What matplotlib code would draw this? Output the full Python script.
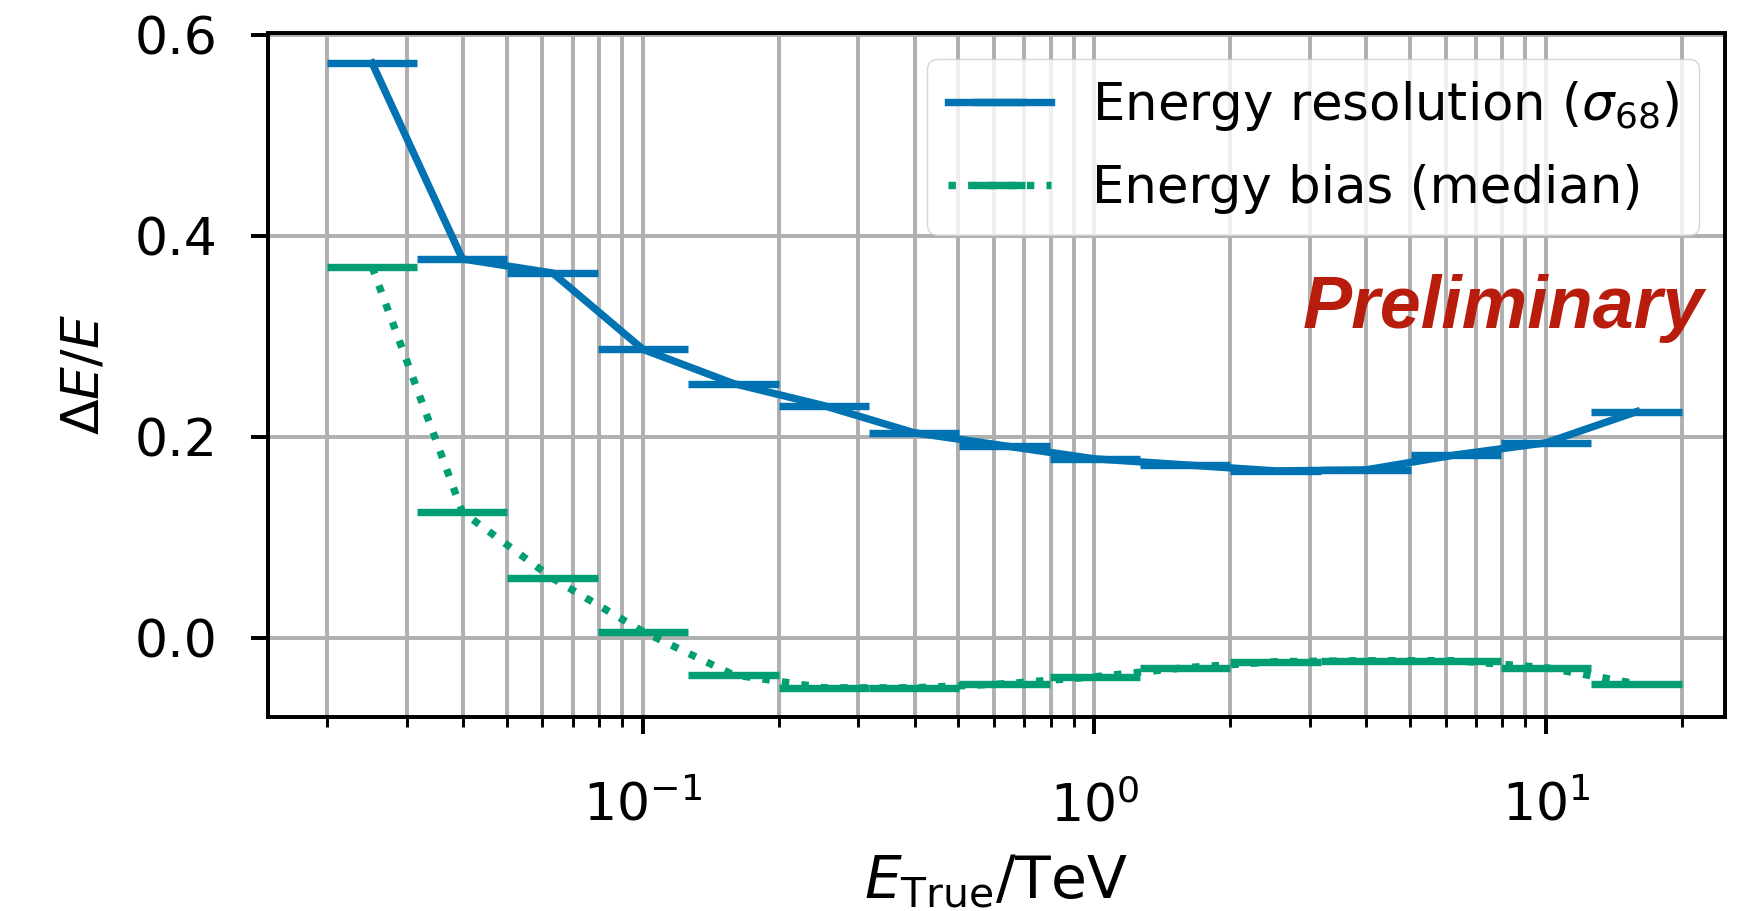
import numpy as np
import matplotlib
matplotlib.use('Agg')
import matplotlib.pyplot as plt

# bin edges in TeV (5 bins per decade, 0.02 - 20 TeV)
bin_edges = [0.02, 0.0317, 0.0502, 0.0796, 0.126, 0.2, 0.317, 0.502,
             0.796, 1.26, 2.0, 3.17, 5.02, 7.96, 12.6, 20.0]

resolution = [0.572, 0.377, 0.363, 0.287, 0.253, 0.231, 0.204, 0.191,
              0.178, 0.172, 0.166, 0.167, 0.182, 0.194, 0.225]
bias = [0.369, 0.125, 0.059, 0.006, -0.037, -0.050, -0.050, -0.046,
        -0.039, -0.030, -0.024, -0.023, -0.023, -0.030, -0.046]

label_res = r'Energy resolution ($\sigma_{68}$)'
label_bias = 'Energy bias (median)'

s = 3.55  # scale of everything vs. matplotlib defaults
plt.rcParams.update({
    'font.size': 37.5,
    'axes.linewidth': 0.8 * s,
    'grid.linewidth': 0.8 * s,
    'xtick.major.size': 3.5 * s,
    'xtick.minor.size': 2 * s,
    'ytick.major.size': 3.5 * s,
    'xtick.major.width': 0.8 * s,
    'xtick.minor.width': 0.6 * s,
    'ytick.major.width': 0.8 * s,
    'xtick.major.pad': 34,
    'ytick.major.pad': 24,
    'lines.linewidth': 1.5 * s,
})

lo = np.array(bin_edges[:-1])
hi = np.array(bin_edges[1:])
center = np.sqrt(lo * hi)
xerr = [center - lo, hi - center]

fig = plt.figure(figsize=(17.42, 9.11), dpi=100)
ax = fig.add_axes([0.1538, 0.2130, 0.8364, 0.7508])

ax.errorbar(center, resolution, xerr=xerr, ls='-', color='#0173B2',
            label=label_res)
ax.errorbar(center, bias, xerr=xerr, ls=':', color='#029E73',
            label=label_bias)

ax.set_xscale('log')
ax.set_xlim(0.0148, 24.9)
ax.set_ylim(-0.079, 0.602)
ax.set_yticks([0.0, 0.2, 0.4, 0.6])
ax.grid(True, which='major', color='#b0b0b0')
ax.grid(True, which='minor', axis='x', color='#b0b0b0')
ax.set_axisbelow(True)

ax.set_xlabel(r'$E_\mathrm{True} / \mathrm{TeV}$', fontsize=42, labelpad=14)
ax.set_ylabel(r'$\Delta E / E$', labelpad=18)
ax.legend(loc='upper right', fontsize=37, labelspacing=0.6)

ax.text(0.986, 0.569, 'Preliminary', transform=ax.transAxes,
        ha='right', va='baseline', fontsize=53, fontweight='bold',
        fontstyle='italic', family='Liberation Sans', color='#B71C0C')

fig.savefig('out.png', dpi=100)
